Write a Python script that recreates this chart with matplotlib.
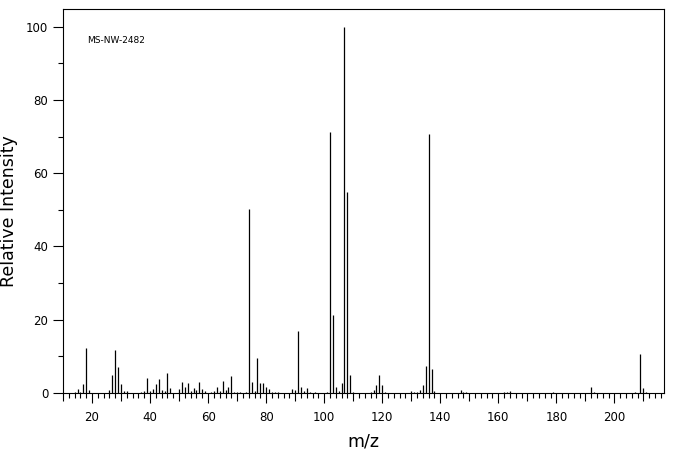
import matplotlib
matplotlib.use("Agg")
import matplotlib.pyplot as plt
from matplotlib.ticker import FixedLocator, NullFormatter

# peak list
mz = [14, 15, 16, 17, 18, 19,
      26, 27, 28, 29, 30, 31, 32,
      37, 38, 39, 40, 41, 42, 43, 44, 45, 46, 47,
      50, 51, 52, 53, 54, 55, 56, 57, 58, 59,
      61, 62, 63, 64, 65, 66, 67, 68, 69, 70, 71, 73,
      74, 75, 76, 77, 78, 79, 80, 81, 82, 83, 84,
      89, 90, 91, 92, 93, 94, 95, 97,
      101, 102, 103, 104, 105, 106, 107, 108, 109, 110,
      116, 117, 118, 119, 120, 121,
      130, 131, 132, 133, 134, 135, 136, 137, 138,
      147, 148, 149,
      162, 163, 164, 179,
      192, 193, 207, 209, 210, 211]
intensity = [0.3, 1.1, 0.3, 2.5, 12.3, 0.7,
             0.8, 4.9, 11.7, 7.1, 2.5, 0.5, 0.5,
             0.3, 0.5, 4.1, 0.5, 1.1, 2.5, 3.8, 0.8, 0.5, 5.5, 1.4,
             1.1, 3.0, 1.6, 2.7, 0.5, 1.4, 0.8, 3.0, 1.1, 0.5,
             0.3, 0.5, 1.6, 0.5, 3.3, 0.8, 1.6, 4.7, 0.3, 0.3, 0.3, 0.3,
             50.3, 3.1, 0.5, 9.6, 2.8, 2.8, 1.7, 1.1, 0.3, 0.3, 0.3,
             1.1, 0.8, 16.8, 1.7, 0.5, 1.4, 0.3, 0.3,
             0.3, 71.3, 21.3, 1.7, 0.5, 2.8, 100.0, 54.8, 4.9, 0.3,
             0.3, 0.8, 2.2, 4.9, 2.2, 0.3,
             0.5, 0.3, 0.3, 0.8, 2.1, 7.4, 70.7, 6.5, 0.5,
             0.8, 0.3, 0.3,
             0.3, 0.3, 0.5, 0.3,
             1.6, 0.3, 0.3, 10.6, 1.4, 0.3]

x_major = list(range(20, 201, 20))
x_mid = list(range(10, 211, 20))
x_minor = [v for v in range(10, 217, 2) if v % 10 != 0]
y_major = list(range(0, 101, 20))
y_minor = list(range(10, 100, 20))

sample_id = "MS-NW-2482"


def main():
    fig = plt.figure(figsize=(6.76, 4.55), dpi=100)
    ax = fig.add_axes([63 / 676, 1 - 393 / 455, 601 / 676, 384 / 455])

    ax.vlines(mz, 0, intensity, colors="black", linewidth=0.9)

    ax.set_xlim(10, 217.1)
    ax.set_ylim(0, 104.8)

    for sp in ax.spines.values():
        sp.set_linewidth(0.8)

    ax.set_xticks(x_major)
    ax.xaxis.set_minor_locator(FixedLocator(x_minor))
    ax.set_yticks(y_major)
    ax.yaxis.set_minor_locator(FixedLocator(y_minor))
    ax.tick_params(axis="x", which="major", length=7.4, width=0.8,
                   labelsize=8.5, pad=5.5)
    ax.tick_params(axis="x", which="minor", length=3.8, width=0.8)
    ax.tick_params(axis="y", which="major", length=7.2, width=0.8,
                   labelsize=8.5, pad=3.4)
    ax.tick_params(axis="y", which="minor", length=3.6, width=0.8)

    # medium ticks at the odd tens
    sec = ax.secondary_xaxis("bottom")
    sec.set_xticks(x_mid)
    sec.xaxis.set_major_formatter(NullFormatter())
    sec.tick_params(length=5.5, width=0.8)
    sec.spines["bottom"].set_visible(False)

    ax.set_xlabel("m/z", fontsize=12.5)
    ax.xaxis.set_label_coords(0.5, -0.125)
    ax.xaxis.label.set_va("center")
    ax.set_ylabel("Relative Intensity", fontsize=12.5)
    ax.yaxis.set_label_coords(-0.09, 0.474)
    ax.yaxis.label.set_va("center")

    ax.text(0.04, 0.917, sample_id, transform=ax.transAxes,
            fontsize=6.5, va="center")

    fig.savefig("out.png", dpi=100)
    plt.close(fig)


if __name__ == "__main__":
    main()
